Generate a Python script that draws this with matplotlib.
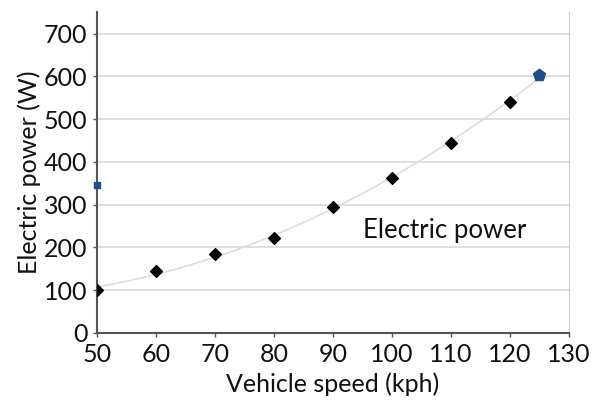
import numpy as np
import matplotlib.pyplot as plt

plt.rcParams['font.family'] = ['Lato', 'DejaVu Sans']

# measured points
speed = [50, 60, 70, 80, 90, 100, 110, 120]
power = [100, 145, 184, 222, 294, 362, 443, 541]
# extra highlighted points
speed_max = [125]
power_max = [602]
speed_side = [50]
power_side = [345]

fig = plt.figure(figsize=(6.15, 4.05), dpi=100)
ax = fig.add_axes([0.158, 0.178, 0.767, 0.792])

# quadratic trend through the measured points
z = np.polyfit(speed + speed_max, power + power_max, 2)
p = np.poly1d(z)
xs = np.linspace(50, 125, 200)
ax.plot(xs, p(xs), color='#dddddd', linewidth=1.2, zorder=2)

ax.scatter(speed, power, marker='D', s=36, color='black', zorder=3)
ax.scatter(speed_max, power_max, marker='p', s=80, color='#1f4e8c', zorder=3)
ax.scatter(speed_side, power_side, marker='s', s=14, color='#1f4e8c', zorder=4, clip_on=False)

ax.text(95, 240, 'Electric power', fontsize=18.5, color='#111111', va='center')

ax.set_xlim(50, 130)
ax.set_ylim(0, 750)
ax.set_xticks(range(50, 131, 10))
ax.set_yticks(range(0, 701, 100))
ax.tick_params(labelsize=18, length=3, width=1, color='#555555', labelcolor='#111111')
ax.tick_params(axis='x', pad=4)
ax.tick_params(axis='y', pad=4)
ax.set_xlabel('Vehicle speed (kph)', fontsize=18, color='#111111', labelpad=5)
ax.set_ylabel('Electric power (W)', fontsize=18, color='#111111', labelpad=2)

ax.grid(axis='y', color='#d9d9d9', linewidth=1.2)
ax.set_axisbelow(True)
ax.spines['top'].set_visible(False)
ax.spines['right'].set_color('#d0d0d0')
ax.spines['left'].set_color('#555555')
ax.spines['bottom'].set_color('#555555')
ax.spines['left'].set_linewidth(1.5)
ax.spines['bottom'].set_linewidth(1.5)

fig.savefig('out.png', dpi=100)
